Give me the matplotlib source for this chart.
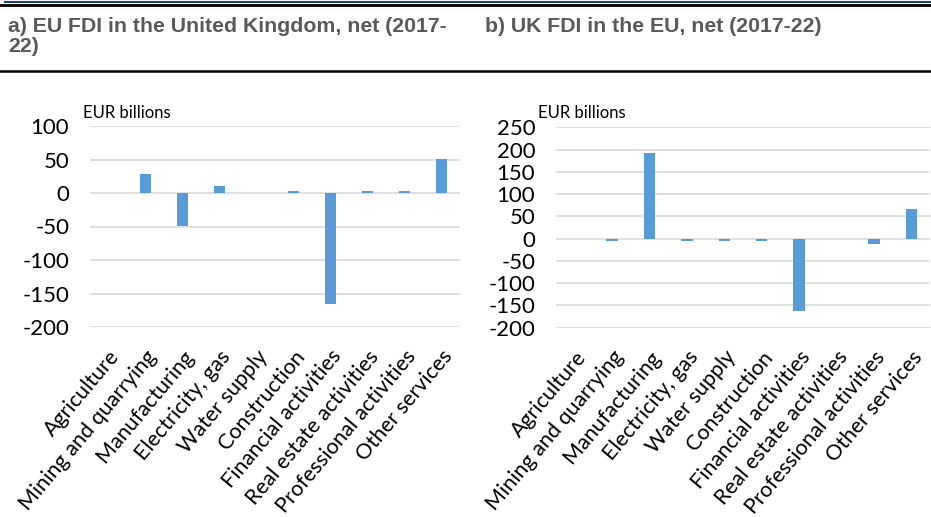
import numpy as np
import matplotlib
matplotlib.use("Agg")
import matplotlib.pyplot as plt
from matplotlib.lines import Line2D

sectors = ['Agriculture', 'Mining and quarrying', 'Manufacturing', 'Electricity, gas',
           'Water supply', 'Construction', 'Financial activities', 'Real estate activities',
           'Professional activities', 'Other services']
eu_in_uk = [0, 28, -49, 11, 0, 3, -166, 3, 3, 51]
uk_in_eu = [0, -5, 192, -5, -5, -5, -163, 0, -11, 66]

title_a = 'a) EU FDI in the United Kingdom, net (2017-\n22)'
title_b = 'b) UK FDI in the EU, net (2017-22)'
unit = 'EUR billions'

bar_color = '#5b9bd5'
grid_color = '#d9d9d9'
txt_font = ['Lato', 'DejaVu Sans']

plt.rcParams['axes.unicode_minus'] = False

W, H = 931, 517
fig = plt.figure(figsize=(W / 100, H / 100), dpi=100)


def px_axes(x0, x1, y0, y1):
    # pixel box (top-left origin) -> figure fraction
    return fig.add_axes([x0 / W, 1 - y1 / H, (x1 - x0) / W, (y1 - y0) / H])


def draw_panel(ax, values, ymin, ymax, step):
    x = np.arange(len(values))
    ax.bar(x, values, width=0.3, color=bar_color, zorder=3)
    ax.set_xlim(-0.5, len(values) - 0.5)
    ax.set_ylim(ymin, ymax)
    ax.set_yticks(np.arange(ymin, ymax + 1, step))
    ax.yaxis.grid(True, color=grid_color, linewidth=1.2, zorder=0)
    ax.set_axisbelow(True)
    for s in ax.spines.values():
        s.set_visible(False)
    ax.tick_params(axis='both', length=0)
    ax.tick_params(axis='y', labelsize=16, pad=15)
    for lab in ax.get_yticklabels():
        lab.set_family(txt_font)
    ax.set_xticks(x)
    ax.set_xticklabels(sectors, rotation=50, ha='right', rotation_mode='anchor',
                       fontsize=15.5, family=txt_font)
    ax.tick_params(axis='x', pad=14)


ax1 = px_axes(90, 460, 126, 327)
draw_panel(ax1, eu_in_uk, -200, 100, 50)
ax2 = px_axes(556, 930, 127.3, 327.7)
draw_panel(ax2, uk_in_eu, -200, 250, 50)

fig.text(83 / W, 1 - 113 / H, unit, fontsize=12, family=txt_font, va='center', ha='left')
fig.text(538 / W, 1 - 113 / H, unit, fontsize=12, family=txt_font, va='center', ha='left')

# header rules and titles
fig.add_artist(Line2D([5 / W, 1], [1 - 1.5 / H, 1 - 1.5 / H], color='#1f3c88', linewidth=1.5))
fig.add_artist(Line2D([0, 1], [1 - 4.5 / H, 1 - 4.5 / H], color='black', linewidth=2))
fig.add_artist(Line2D([0, 1], [1 - 70.5 / H, 1 - 70.5 / H], color='black', linewidth=1.8))

fig.text(8 / W, 1 - 17 / H, title_a, fontsize=15.3, fontweight='bold', color='#595959',
         family='Liberation Sans', va='top', ha='left', linespacing=1.1)
fig.text(485 / W, 1 - 17 / H, title_b, fontsize=15.3, fontweight='bold', color='#595959',
         family='Liberation Sans', va='top', ha='left')

fig.savefig('out.png', dpi=100)
